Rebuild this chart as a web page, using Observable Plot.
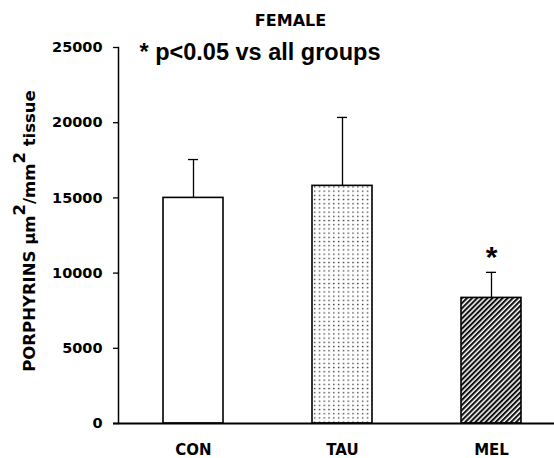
<!DOCTYPE html>
<html>
<head>
<meta charset="utf-8">
<script src="https://cdn.jsdelivr.net/npm/d3@7"></script>
<script src="https://cdn.jsdelivr.net/npm/@observablehq/plot@0.6"></script>
<style>
  body { margin: 0; background: #fff; }
  #chart svg { display: block; }
</style>
</head>
<body>
<svg width="0" height="0" style="position:absolute">
  <defs>
    <pattern id="dots" width="4.8" height="4.2" patternUnits="userSpaceOnUse">
      <rect width="4.8" height="4.2" fill="#fff"/>
      <rect x="2" y="1.5" width="1.3" height="1.3" fill="#222"/>
    </pattern>
    <pattern id="hatch" width="3.6" height="3.6" patternUnits="userSpaceOnUse" patternTransform="rotate(45)">
      <rect width="3.6" height="3.6" fill="#fff"/>
      <rect width="2.1" height="3.6" fill="#111"/>
    </pattern>
  </defs>
</svg>
<div id="chart"></div>
<script>
// ---- data ----
const groups = ["CON", "TAU", "MEL"];
const means = [15000, 15800, 8350];
const sems = [2550, 4550, 1700];
const significant = [false, false, true];
const yTicks = [0, 5000, 10000, 15000, 20000, 25000];
const titleText = "FEMALE";
const noteText = "* p<0.05 vs all groups";

const rows = groups.map((g, i) => ({group: g, mean: means[i], top: means[i] + sems[i], sig: significant[i]}));

const wide = "DejaVu Sans, sans-serif";
const arial = "Liberation Sans, Arial, sans-serif";

const chart = Plot.plot({
  width: 554,
  height: 458,
  marginLeft: 118,
  marginRight: 0,
  marginTop: 47,
  marginBottom: 35,
  style: {fontFamily: wide, fontWeight: "bold", background: "#fff", color: "#000"},
  x: {domain: groups, range: [118.5, 565.5], paddingInner: 0.6, paddingOuter: 0.3, label: null},
  y: {domain: [0, 25000], label: null},
  color: {domain: groups, range: ["#ffffff", "url(#dots)", "url(#hatch)"]},
  marks: [
    Plot.barY(rows, {x: "group", y: "mean", fill: "group", stroke: "#000", strokeWidth: 1.6}),
    Plot.ruleX(rows, {x: "group", y1: "mean", y2: "top", stroke: "#000", strokeWidth: 1.3}),
    Plot.tickY(rows, {x: "group", y: "top", stroke: "#000", strokeWidth: 1.3, insetLeft: 25, insetRight: 25}),
    Plot.text(rows.filter(d => d.sig), {x: "group", y: "top", text: () => "*", fontFamily: arial, fontSize: 30, fontWeight: "bold", lineAnchor: "top", dy: -27, fill: "#000"}),
    Plot.frame({anchor: "left", stroke: "#000", strokeWidth: 1.5}),
    Plot.ruleY([0], {stroke: "#000", strokeWidth: 1.8, insetLeft: -5}),
    Plot.axisY({ticks: yTicks, tickSize: 5, tickPadding: 11, tickFormat: d3.format("d"), fontSize: 14.5, label: null, stroke: "#000", strokeWidth: 1.3}),
    Plot.axisX({tickSize: 0, tickPadding: 20.5, fontSize: 15, label: null}),
    Plot.text([titleText], {frameAnchor: "top", text: d => d, dx: -46, dy: -33, lineAnchor: "top", fontSize: 16, fontFamily: wide, fontWeight: "bold", fill: "#000"}),
    Plot.text([noteText], {frameAnchor: "top-left", text: d => d, dx: 21, dy: -4, lineAnchor: "top", textAnchor: "start", fontSize: 23.5, fontFamily: arial, fontWeight: "bold", fill: "#000"})
  ]
});

// rotated y-axis label with raised exponents
const svg = d3.select(chart);
const lab = svg.append("text")
  .attr("transform", "translate(35,231) rotate(-90)")
  .attr("text-anchor", "middle")
  .attr("font-family", wide)
  .attr("font-weight", "bold")
  .attr("font-size", 16.5)
  .attr("fill", "#000");
lab.append("tspan").text("PORPHYRINS \u03bcm");
lab.append("tspan").attr("dy", -10).text("2");
lab.append("tspan").attr("dy", 10).text("/mm");
lab.append("tspan").attr("dy", -10).text("2");
lab.append("tspan").attr("dy", 10).text(" tissue");

document.getElementById("chart").appendChild(chart);
</script>
</body>
</html>
